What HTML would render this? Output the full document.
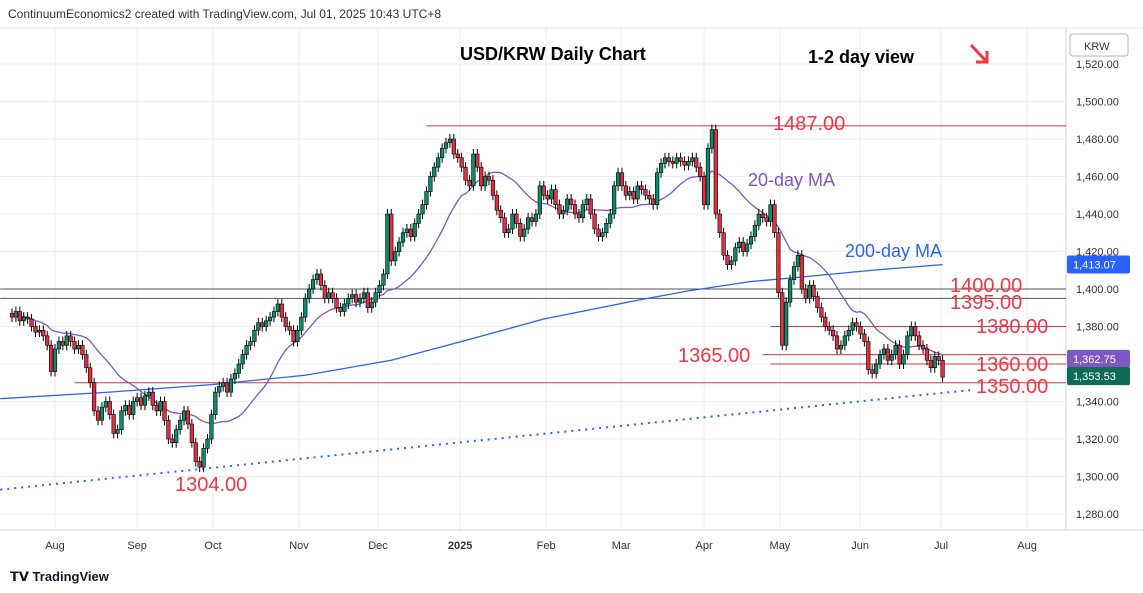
<!DOCTYPE html>
<html><head><meta charset="utf-8"><style>
body{margin:0;background:#fff;font-family:"Liberation Sans",sans-serif}
svg{display:block}
</style></head><body>
<svg id="c" width="1143" height="593" xmlns="http://www.w3.org/2000/svg"></svg>
<script>
const closes=[1385,1388,1383,1385,1384,1380,1377,1378,
1375,1370,1356,1368,1372,1370,1375,1372,1368,1370,1365,1358,1350,1335,1330,1337,1340,1333,1323,1325,1335,
1338,1333,1340,1342,1338,1343,1345,1338,1335,1340,1330,1320,1318,1325,1330,1335,1328,1318,1308,1305,
1315,1320,1333,1345,1348,1350,1345,1352,1355,1360,1365,1370,1372,1378,1382,1380,1383,1385,1388,1392,1385,1380,1378,
1372,1378,1385,1395,1400,1405,1408,1402,1395,1398,1395,1390,1388,1392,1395,1397,1393,1395,1398,1390,1393,
1398,1402,1408,1440,1415,1420,1425,1430,1432,1428,1435,1440,1445,1452,1460,1465,1470,1475,1478,1480,1472,
1470,1465,1458,1455,1472,1465,1455,1460,1458,1450,1442,1438,1430,1432,1440,1435,1428,1432,1438,1436,1440,
1455,1450,1448,1453,1445,1440,1442,1448,1445,1440,1438,1445,1448,1440,1432,1428,1430,1435,1440,
1455,1462,1455,1450,1452,1448,1455,1453,1450,1448,1445,1462,1467,1470,1468,1467,1470,1468,1466,1468,1470,
1465,1460,1445,1475,1485,1440,1430,1418,1413,1415,1422,1425,1420,1424,1428,1434,1440,1438,1436,1445,1430,
1398,1370,1393,1405,1412,1418,1400,1395,1402,1396,1390,1385,1380,1378,1375,1368,1370,1375,1378,1382,1380,
1376,1372,1357,1355,1360,1365,1368,1362,1365,1370,1360,1365,1375,1380,1375,1370,1368,1362,1358,1364,1362,
1353];
const ma200=[[-3,1341.5],[25,1345],[51,1349],[75,1354],[97,1362],[115,1372],[136,1384],[160,1394],[173,1399],[189,1404],[200,1406],[220,1410],[238,1413]];
const monthLabels=["Aug","Sep","Oct","Nov","Dec","2025","Feb","Mar","Apr","May","Jun","Jul","Aug"];
const monthIdx=[11,32,51.4,73.4,93.6,114.6,136.6,155.8,177,196.4,216.9,237.6,259.6];
const priceTicks=[1520,1500,1480,1460,1440,1420,1400,1380,1360,1340,1320,1300,1280];
const levels=[1487,1400,1395,1380,1365,1360,1350];
const levelStart=[106,-3,-3,194,192,194,16];
const trend=[[-3,1293],[238,1344.6],[245,1346]];

const S=document.getElementById('c');const NS='http://www.w3.org/2000/svg';
const Y=p=>64+(1520-p)*1.875;
const X=i=>12+i*3.91;
function el(t,a,p){const e=document.createElementNS(NS,t);for(const k in a)e.setAttribute(k,a[k]);(p||S).appendChild(e);return e;}
function tx(s,x,y,a){const e=el('text',Object.assign({x:x,y:y},a));e.textContent=s;return e;}
priceTicks.forEach(p=>{const g=el('line',{x1:0,x2:1066,y1:Y(p),y2:Y(p),stroke:'#e9eef3'});

const t=tx(p.toLocaleString('en-US')+'.00',1076,Y(p)+4,{'font-size':11,fill:'#333'});
});
monthIdx.forEach((m,i)=>{const g=el('line',{x1:X(m),x2:X(m),y1:28,y2:530,stroke:'#e9eef3'});

const t=tx(monthLabels[i],X(m),549,{'font-size':11,fill:'#333','text-anchor':'middle','font-weight':monthLabels[i]=='2025'?'bold':'normal'});
});
el('line',{x1:1066,x2:1066,y1:28,y2:530,stroke:'#d0d4da'});
el('line',{x1:0,x2:1143,y1:530,y2:530,stroke:'#d0d4da'});
el('line',{x1:0,x2:1143,y1:28,y2:28,stroke:'#e0e3eb'});
levels.forEach((l,i)=>{const e=el('line',{x1:X(levelStart[i]),x2:1066,y1:Y(l),y2:Y(l),stroke:(l==1400||l==1395)?'#555':'#e8303f','stroke-width':1});
});
const tl=el('polyline',{points:trend.map(t=>X(t[0])+','+Y(t[1])).join(' '),fill:'none',stroke:'#2962ff','stroke-width':2,'stroke-dasharray':'2 5'});

const m2=el('polyline',{points:ma200.map(t=>X(t[0])+','+Y(t[1])).join(' '),fill:'none',stroke:'#2962ff','stroke-width':1.3});

let pts=[];for(let i=0;i<closes.length;i++){const s=closes.slice(Math.max(0,i-19),i+1);pts.push(X(i)+','+Y(s.reduce((a,b)=>a+b,0)/s.length));}
const m1=el('polyline',{points:pts.join(' '),fill:'none',stroke:'#7e57c2','stroke-width':1.3});

for(let i=0;i<closes.length;i++){const c=closes[i],o=i?closes[i-1]:c+2;const up=c>=o;
const g=el('g',{});
const top=Y(Math.max(o,c)),bot=Y(Math.min(o,c));
el('line',{x1:X(i),x2:X(i),y1:top-5,y2:bot+5,stroke:'#000'},g);
el('rect',{x:X(i)-1.8,y:top,width:3.6,height:Math.max(1,bot-top),fill:up?'#0b8a6c':'#e0303f',stroke:'#000','stroke-width':0.6},g);}
const ann=[["1487.00",773,130,'#f23645'],["1400.00",950,292,'#f23645'],["1395.00",950,309,'#f23645'],["1380.00",976,333,'#f23645'],["1365.00",678,362,'#f23645'],["1360.00",976,371,'#f23645'],["1350.00",976,393,'#f23645'],["1304.00",175,491,'#f23645']];
ann.forEach(a=>{const t=tx(a[0],a[1],a[2],{'font-size':20,fill:a[3]});});
let t=tx('20-day MA',748,186,{'font-size':18,fill:'#7e57c2'});
t=tx('200-day MA',845,257,{'font-size':18,fill:'#2962ff'});
t=tx('USD/KRW Daily Chart',460,60,{'font-size':18,'font-weight':'bold',fill:'#000'});
t=tx('1-2 day view',808,63,{'font-size':18,'font-weight':'bold',fill:'#000'});
const ar=el('path',{d:'M971 45 L986 61 M976 62 L987 62 L987 51',stroke:'#f23645','stroke-width':3,fill:'none'});
t=tx('ContinuumEconomics2 created with TradingView.com, Jul 01, 2025 10:43 UTC+8',8,18,{'font-size':12,fill:'#333'});
const kb=el('rect',{x:1070,y:34,width:58,height:22,rx:3,fill:'#fff',stroke:'#b0b4bc'});
tx('KRW',1084,50,{'font-size':11,fill:'#333'});
[[1413.07,'#2962ff'],[1362.75,'#7e57c2'],[1353.53,'#0e6b55']].forEach(v=>{const g=el('g',{});
el('rect',{x:1067,y:Y(v[0])-9,width:63,height:18,rx:2,fill:v[1]},g);
const e=tx(v[0].toLocaleString('en-US',{minimumFractionDigits:2}),1073,Y(v[0])+4,{'font-size':11,fill:'#fff'});g.appendChild(e);});
t=tx('𝗧𝗩 TradingView',10,581,{'font-size':13,'font-weight':'bold',fill:'#131722'});
</script>
</body></html>
